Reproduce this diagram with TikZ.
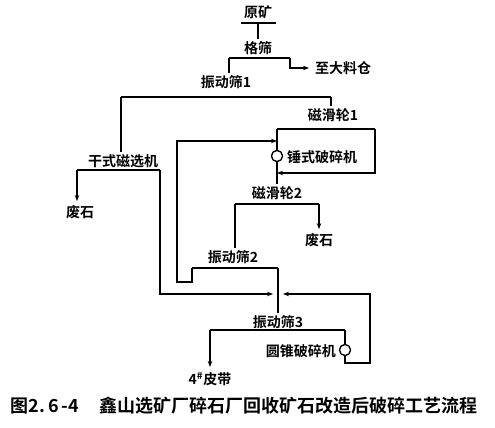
\documentclass[tikz,border=0pt]{standalone}
\usepackage{fontspec}
\setmainfont{Noto Sans CJK SC}[BoldFont={* Bold}]
\usetikzlibrary{%
        arrows.meta,
    }
\tikzset{%
    flow/.style={line width=1.2pt},
    myarrow/.style={%
        flow,
        -{Stealth[length=6pt, width=4.5pt]},
    },
    screen/.style={line width=2.8pt},
    lab/.style={%
        font=\fontsize{14}{14}\selectfont\bfseries,
        inner sep=0pt,
    },
    crusher/.style={%
        draw,
        circle,
        line width=1.2pt,
        fill=white,
        minimum size=11pt,
        inner sep=0pt,
    }
}

\begin{document}
\begin{tikzpicture}[x=1pt, y=-1pt]
    \useasboundingbox (0, 0) rectangle (495, 428);

    %%%%%%%%%%%%%%%%%
    % Ore, grizzly  %
    %%%%%%%%%%%%%%%%%
    \node[lab] (ore) at (258, 12) {原矿};
    \coordinate (ore-l) at (241, 23);
    \coordinate (ore-r) at (276, 23);
    \node[lab] (grizzly) at (258, 48) {格筛};
    \draw[flow] (ore.south |- ore-l) -- ([yshift=2pt] grizzly.north);

    \coordinate (gs-l) at (229, 58);
    \coordinate (gs-r) at (290, 58);
    \node[lab, anchor=west] (bin) at (315, 68) {至大料仓};
    \draw[myarrow] (gs-r) |- ([xshift=-6pt] bin.west);

    %%%%%%%%%%%%%%%%%%%
    % Vibrating sieve 1 %
    %%%%%%%%%%%%%%%%%%%
    \node[lab] (vs1) at (226, 82) {振动筛1};
    \draw[flow] (gs-l) -- ([yshift=2pt] gs-l |- vs1.north);
    \coordinate (vs1-l) at (121, 97);
    \coordinate (vs1-r) at (331, 97);

    % Magnetic pulley 1 and hammer crusher
    \node[lab] (mp1) at (333, 115) {磁滑轮1};
    \draw[flow] (vs1-r) -- ([yshift=2pt] vs1-r |- mp1.north);
    \coordinate (mp1-l) at (277, 129);
    \coordinate (mp1-r) at (375, 129);
    \coordinate (box-bl) at (277, 173);
    \coordinate (hc-in) at (277, 141);
    \node[crusher] (hc) at (277, 156) {};
    \node[lab, anchor=west] (hc-lab) at (287, 157) {锤式破碎机};
    \draw[flow] (mp1-l) -- (hc.north);
    \draw[myarrow] (mp1-r) |- (box-bl);

    % Magnetic pulley 2
    \node[lab] (mp2) at (277, 193) {磁滑轮2};
    \draw[flow] (hc.south) -- ([yshift=2pt] mp2.north);
    \coordinate (mp2-l) at (235, 204);
    \coordinate (mp2-r) at (319, 204);
    \node[lab] (waste2) at (319, 240) {废石};
    \draw[myarrow] (mp2-r) -- ([yshift=4pt] waste2.north);

    %%%%%%%%%%%%%%%%%%%
    % Vibrating sieve 2 %
    %%%%%%%%%%%%%%%%%%%
    \node[lab] (vs2) at (233, 257) {振动筛2};
    \draw[flow] (mp2-l) -- ([yshift=2pt] mp2-l |- vs2.north);
    \coordinate (vs2-l) at (192, 268);
    \coordinate (vs2-r) at (278, 268);
    \coordinate (ret2) at (177, 282);
    \draw[myarrow] (vs2-l) |- (ret2) -- (ret2 |- hc-in) -- (hc-in);

    % Dry magnetic separator
    \node[lab] (dm) at (123, 161) {干式磁选机};
    \draw[flow] (vs1-l) -- ([yshift=2pt] vs1-l |- dm.north);
    \coordinate (dm-l) at (77, 170);
    \coordinate (dm-r) at (160, 170);
    \node[lab] (waste1) at (80, 212) {废石};
    \draw[myarrow] (dm-l) -- ++(0, 31);

    %%%%%%%%%%%%%%%%%%%
    % Vibrating sieve 3 %
    %%%%%%%%%%%%%%%%%%%
    \coordinate (feed3) at (278, 294);
    \draw[myarrow] (dm-r) |- ([xshift=-5pt] feed3);
    \node[lab] (vs3) at (278, 322) {振动筛3};
    \draw[flow] (vs2-r) -- ([yshift=2pt] vs2-r |- vs3.north);
    \coordinate (vs3-l) at (210, 330);
    \coordinate (vs3-r) at (345, 330);
    \node[crusher] (cc) at (345, 350) {};
    \node[lab, anchor=east] (cc-lab) at (336, 351) {圆锥破碎机};
    \draw[flow] (vs3-r) -- (cc.north);
    \coordinate (cc-out) at (370, 363);
    \draw[myarrow] (cc.south) |- (cc-out) -- (cc-out |- feed3)
        -- ([xshift=5pt] feed3);
    \node[lab] (belt) at (210, 379) {4\textsuperscript{\#}皮带};
    \draw[myarrow] (vs3-l) -- ++(0, 37);

    % Screen decks on top
    \foreach \a/\b in {ore-l/ore-r, gs-l/gs-r, vs1-l/vs1-r, mp1-l/mp1-r,
        mp2-l/mp2-r, vs2-l/vs2-r, dm-l/dm-r, vs3-l/vs3-r}{%
        \draw[screen] (\a) -- (\b);
    };
    \node[crusher] at (hc) {};
    \node[crusher] at (cc) {};

    %%%%%%%%%%%
    % Caption %
    %%%%%%%%%%%
    \node[font=\fontsize{18}{18}\selectfont\bfseries, inner sep=0pt]
        (caption) at (244, 406)
        {图2.\,6\,-4\hspace{1.1em}鑫山选矿厂碎石厂回收矿石改造后破碎工艺流程};

\end{tikzpicture}
\end{document}
